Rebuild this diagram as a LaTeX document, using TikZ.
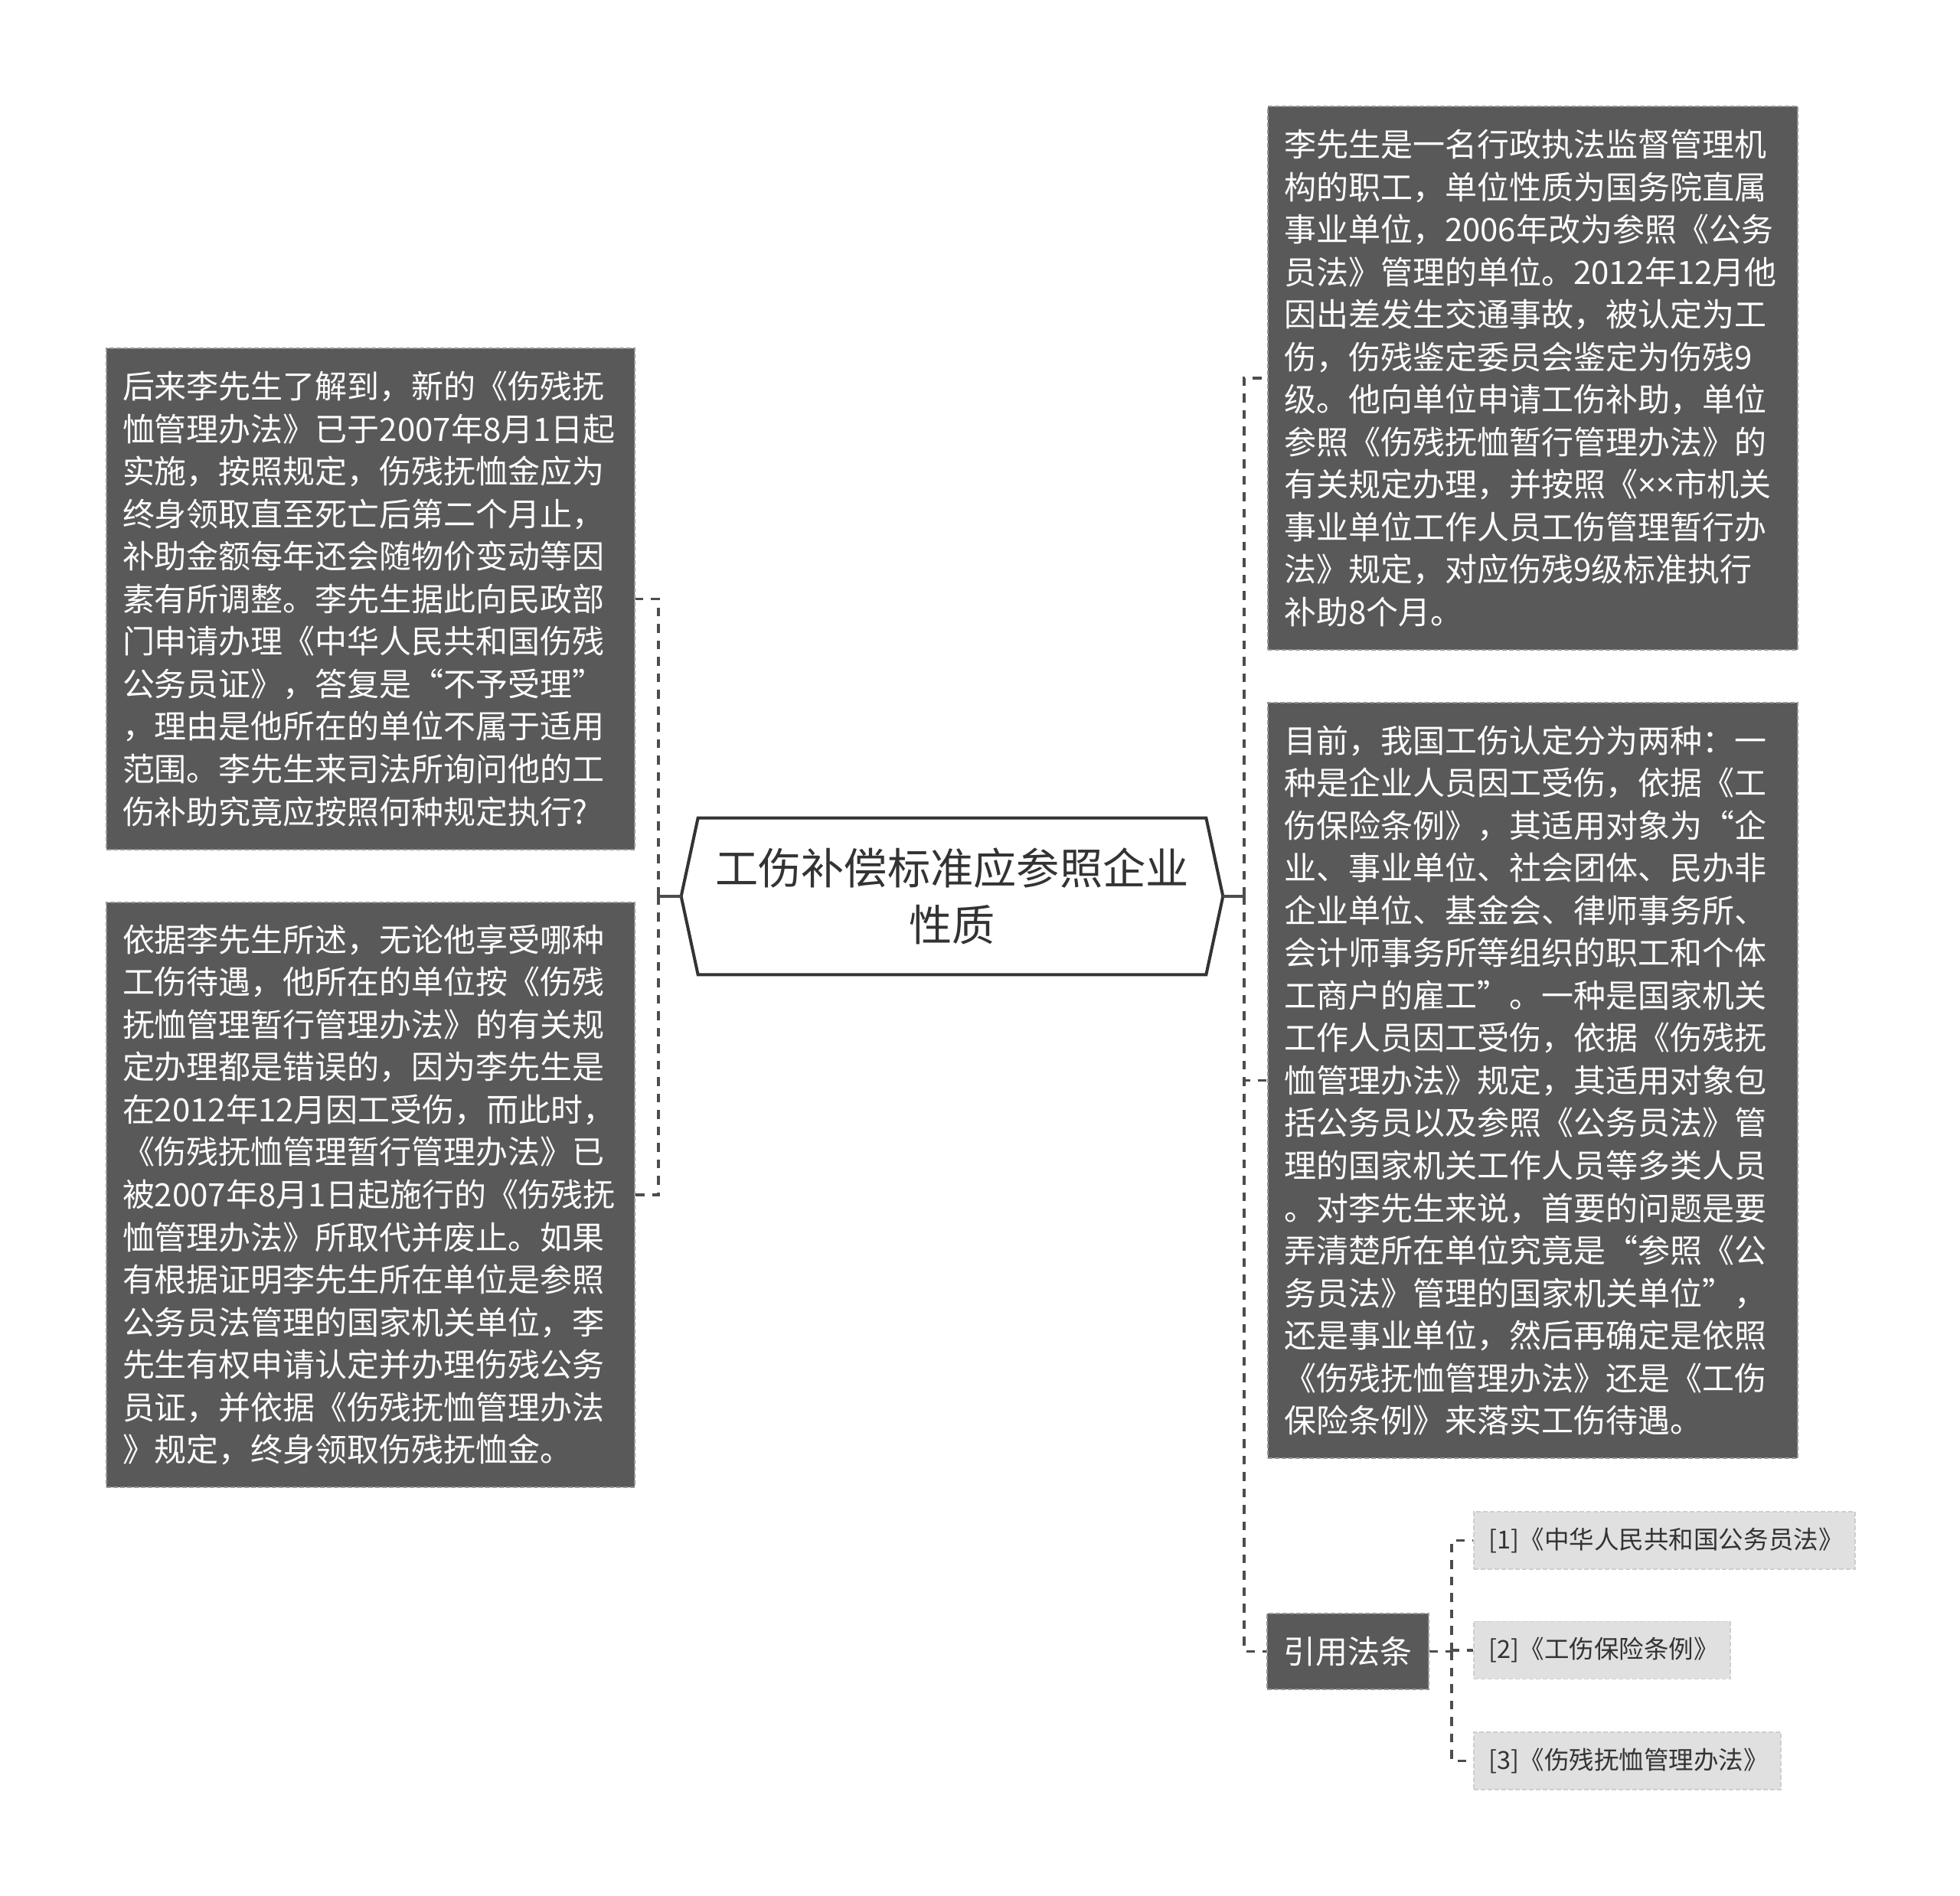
\documentclass[tikz,border=0pt]{standalone}
\usepackage{fontspec}
\setmainfont{Noto Sans CJK SC}
\newfontfamily\narrowfont{Noto Sans}
\usepackage{tikz}
\definecolor{mapDark}{RGB}{89,89,89}
\definecolor{mapEdge}{RGB}{150,150,150}
\definecolor{mapLink}{RGB}{77,77,77}
\definecolor{mapInk}{RGB}{51,51,51}
\definecolor{mapLeaf}{RGB}{224,224,224}
\definecolor{mapLeafEdge}{RGB}{206,206,206}

\begin{document}
\begin{tikzpicture}[
  rootnode/.style={rectangle, minimum width=14.14cm, minimum height=4.08cm,
                   inner sep=0pt, align=center, text=mapInk,
                   font=\fontsize{32pt}{42pt}\selectfont},
  rootedge/.style={draw=mapInk, line width=0.08cm, fill=white, line join=miter},
  textnode/.style={rectangle, fill=mapDark, draw=mapEdge, line width=0.035cm,
                   dash pattern=on 0.12cm off 0.06cm, text=white,
                   text width=12.96cm, align=left, inner xsep=0.42cm, inner ysep=0pt,
                   font=\fontsize{23.9pt}{31.6pt}\selectfont},
  citenode/.style={rectangle, fill=mapDark, draw=mapEdge, line width=0.035cm,
                   dash pattern=on 0.12cm off 0.06cm, text=white,
                   minimum width=4.22cm, minimum height=1.98cm, inner sep=0pt,
                   font=\fontsize{23.9pt}{31.6pt}\selectfont},
  leafnode/.style={rectangle, fill=mapLeaf, draw=mapLeafEdge, line width=0.035cm,
                   dash pattern=on 0.12cm off 0.06cm, text=mapInk, anchor=west,
                   text width=#1, align=left, minimum height=1.5cm,
                   inner xsep=0.4cm, inner ysep=0pt,
                   font=\fontsize{18.5pt}{22pt}\selectfont},
  link/.style={draw=mapLink, line width=0.075cm, dash pattern=on 0.23cm off 0.2cm},
  stub/.style={draw=mapLink, line width=0.075cm},
]

% page frame
\fill[white] (0,0) rectangle (51.2,49.54);
\useasboundingbox (0,0) rectangle (51.2,49.54);

%%──────────────────────────────────────────────────────────────────
%% CENTRE: topic
%%──────────────────────────────────────────────────────────────────
\node[rootnode] (root) at (24.87, 26.12) {};
\draw[rootedge] (root.west) -- ([xshift=0.44cm]root.north west)
     -- ([xshift=-0.44cm]root.north east) -- (root.east)
     -- ([xshift=-0.44cm]root.south east) -- ([xshift=0.44cm]root.south west)
     -- cycle;
\node[rootnode] at (root.center) {工伤补偿标准应参照企业\\性质};

%%──────────────────────────────────────────────────────────────────
%% LEFT: question and answer
%%──────────────────────────────────────────────────────────────────
\node[textnode, minimum height=13.1cm] (ask) at (9.68, 33.89) {%
后来李先生了解到，新的《伤残抚\\
恤管理办法》已于2007年8月1日起\\
实施，按照规定，伤残抚恤金应为\\
终身领取直至死亡后第二个月止，\\
补助金额每年还会随物价变动等因\\
素有所调整。李先生据此向民政部\\
门申请办理《中华人民共和国伤残\\
公务员证》，答复是“不予受理”\\
，理由是他所在的单位不属于适用\\
范围。李先生来司法所询问他的工\\
伤补助究竟应按照何种规定执行?};

\node[textnode, minimum height=15.28cm] (reply) at (9.68, 18.32) {%
依据李先生所述，无论他享受哪种\\
工伤待遇，他所在的单位按《伤残\\
抚恤管理暂行管理办法》的有关规\\
定办理都是错误的，因为李先生是\\
在2012年12月因工受伤，而此时，\\
《伤残抚恤管理暂行管理办法》已\\
被2007年8月1日起施行的《伤残抚\\
恤管理办法》所取代并废止。如果\\
有根据证明李先生所在单位是参照\\
公务员法管理的国家机关单位，李\\
先生有权申请认定并办理伤残公务\\
员证，并依据《伤残抚恤管理办法\\
》规定，终身领取伤残抚恤金。};

\coordinate (lhub) at (17.2, 26.12);
\draw[stub] (root.west) -- (lhub);
\draw[link] (lhub) |- (ask.east);
\draw[link] (lhub) |- (reply.east);

%%──────────────────────────────────────────────────────────────────
%% RIGHT: case, law, citations
%%──────────────────────────────────────────────────────────────────
\node[textnode, minimum height=14.2cm, text width=13.0cm] (case) at (40.04, 39.66) {%
李先生是一名行政执法监督管理机\\
构的职工，单位性质为国务院直属\\
事业单位，2006年改为参照《公务\\
员法》管理的单位。2012年12月他\\
因出差发生交通事故，被认定为工\\
伤，伤残鉴定委员会鉴定为伤残9\\
级。他向单位申请工伤补助，单位\\
参照《伤残抚恤暂行管理办法》的\\
有关规定办理，并按照《{\narrowfont ××}市机关\\
事业单位工作人员工伤管理暂行办\\
法》规定，对应伤残9级标准执行\\
补助8个月。};

\node[textnode, minimum height=19.74cm, text width=13.0cm] (law) at (40.04, 21.31) {%
目前，我国工伤认定分为两种：一\\
种是企业人员因工受伤，依据《工\\
伤保险条例》，其适用对象为“企\\
业、事业单位、社会团体、民办非\\
企业单位、基金会、律师事务所、\\
会计师事务所等组织的职工和个体\\
工商户的雇工”。一种是国家机关\\
工作人员因工受伤，依据《伤残抚\\
恤管理办法》规定，其适用对象包\\
括公务员以及参照《公务员法》管\\
理的国家机关工作人员等多类人员\\
。对李先生来说，首要的问题是要\\
弄清楚所在单位究竟是“参照《公\\
务员法》管理的国家机关单位”，\\
还是事业单位，然后再确定是依照\\
《伤残抚恤管理办法》还是《工伤\\
保险条例》来落实工伤待遇。};

\node[citenode] (cite) at (35.21, 6.39) {引用法条};

\coordinate (rhub) at (32.5, 26.12);
\draw[stub] (root.east) -- (rhub);
\draw[link] (rhub) |- (case.west);
\draw[link] (rhub) |- (law.west);
\draw[link] (rhub) |- (cite.west);

% cited laws
\node[leafnode=9.16cm] (ref1) at (38.48, 9.29) {[1]《中华人民共和国公务员法》};
\node[leafnode=5.9cm] (ref2) at (38.48, 6.42) {[2]《工伤保险条例》};
\node[leafnode=7.22cm] (ref3) at (38.48, 3.53) {[3]《伤残抚恤管理办法》};

\coordinate (chub) at (37.92, 6.39);
\draw[link] (cite.east) -- (chub);
\draw[link] (chub) |- (ref1.west);
\draw[link] (chub) |- (ref2.west);
\draw[link] (chub) |- (ref3.west);

\end{tikzpicture}
\end{document}
